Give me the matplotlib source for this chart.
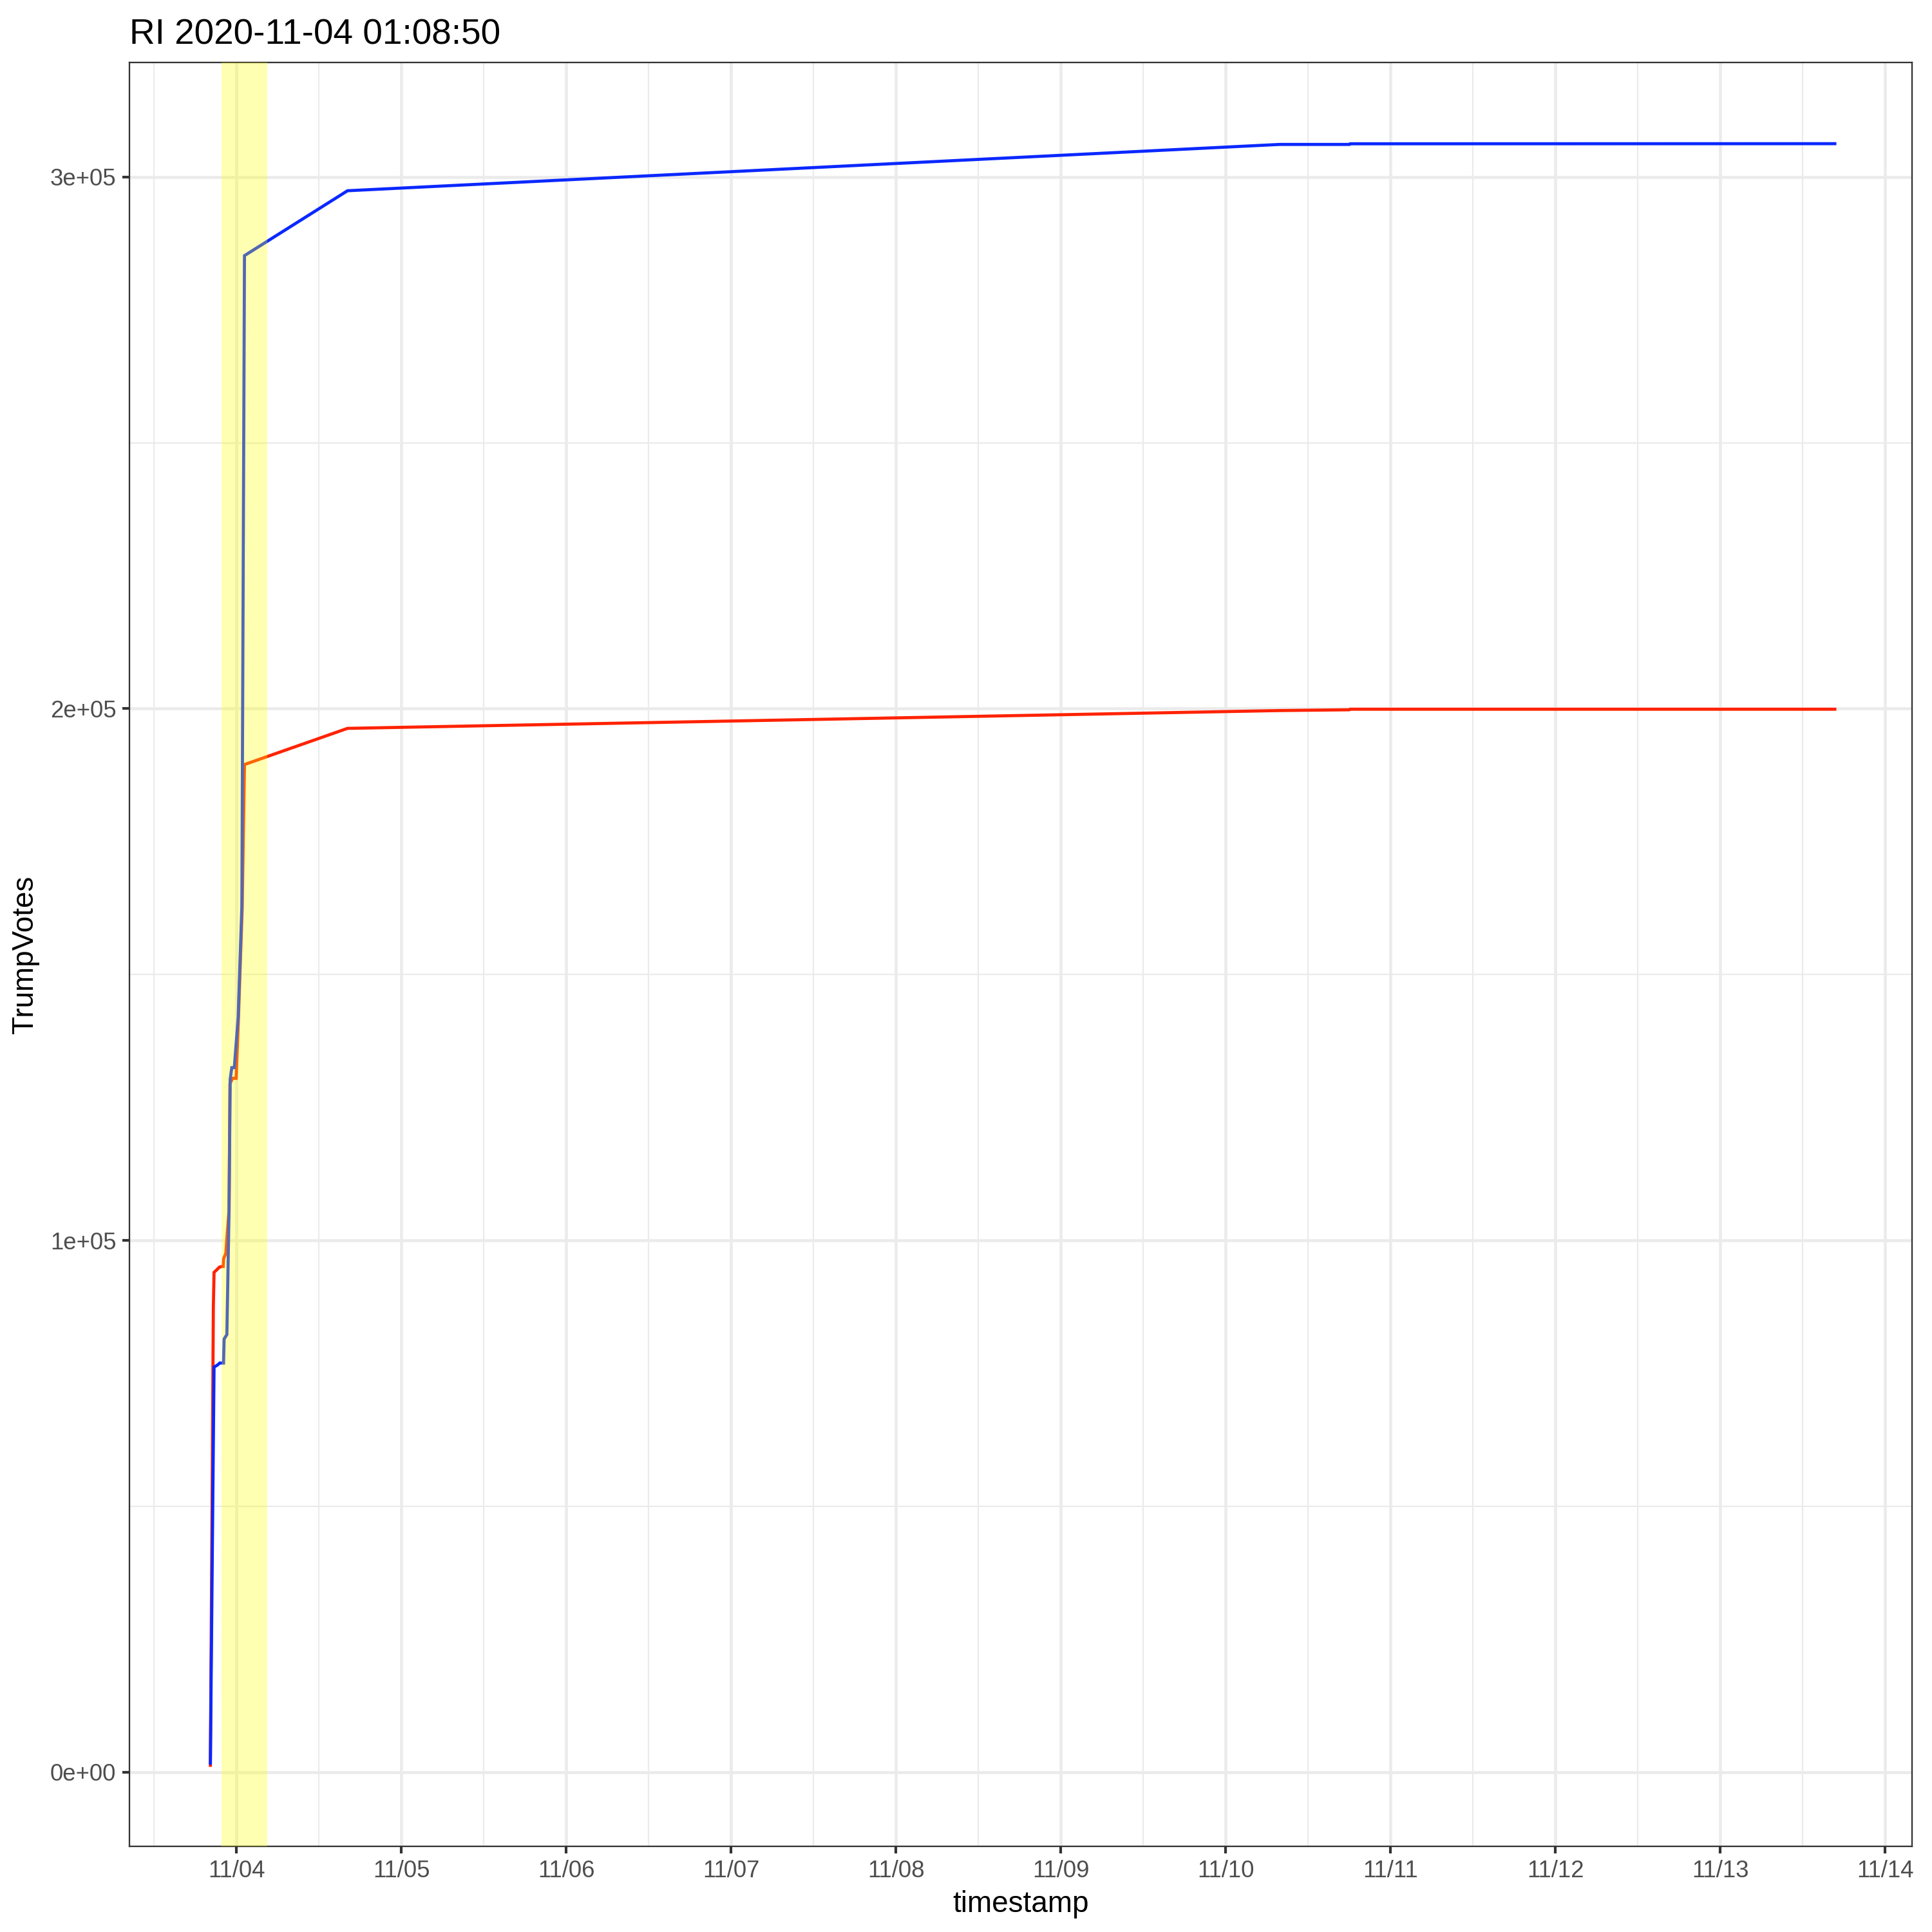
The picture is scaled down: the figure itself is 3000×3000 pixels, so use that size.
import matplotlib
matplotlib.use("Agg")
import matplotlib.pyplot as plt
import matplotlib.dates as mdates
import matplotlib.ticker as mticker
import pandas as pd

# vote counts
trump_times = ["2020-11-03 20:11", "2020-11-03 20:37", "2020-11-03 20:43", "2020-11-03 21:11",
               "2020-11-03 21:29", "2020-11-03 21:48", "2020-11-03 22:03", "2020-11-03 22:07",
               "2020-11-03 22:26", "2020-11-03 22:35", "2020-11-03 22:54", "2020-11-03 23:02",
               "2020-11-03 23:26", "2020-11-03 23:56", "2020-11-04 00:15", "2020-11-04 00:49",
               "2020-11-04 01:08:50", "2020-11-04 16:09", "2020-11-10 07:52", "2020-11-10 18:00",
               "2020-11-10 18:07", "2020-11-13 16:41"]
trump_votes = [1300, 87500, 94000, 94570,
               94980, 95100, 95100, 96600,
               97600, 100400, 105700, 129500,
               130500, 130500, 141000, 162500,
               189500, 196300, 199650, 199800,
               199900, 199900]

biden_times = ["2020-11-03 20:11", "2020-11-03 20:43", "2020-11-03 21:11", "2020-11-03 21:33",
               "2020-11-03 22:06", "2020-11-03 22:11", "2020-11-03 22:35", "2020-11-03 22:41",
               "2020-11-03 22:54", "2020-11-03 23:04", "2020-11-03 23:18", "2020-11-03 23:40",
               "2020-11-04 00:14", "2020-11-04 00:46", "2020-11-04 01:08:50", "2020-11-04 16:09",
               "2020-11-10 07:52", "2020-11-10 18:00", "2020-11-10 18:07", "2020-11-13 16:41"]
biden_votes = [1700, 76200, 76540, 76950,
               76950, 81470, 82300, 89500,
               105700, 130300, 132500, 132500,
               142000, 162900, 285200, 297400,
               306110, 306110, 306230, 306250]

title_text = "RI 2020-11-04 01:08:50"
band_start = "2020-11-03 21:48:50"
band_end = "2020-11-04 04:28:50"
x_range = ("2020-11-03 08:24", "2020-11-14 03:56")

tx = pd.to_datetime(trump_times, format='mixed')
bx = pd.to_datetime(biden_times, format='mixed')

plt.rcParams['font.family'] = ['Liberation Sans', 'DejaVu Sans']

fig = plt.figure(figsize=(10, 10), dpi=300)
ax = fig.add_axes([0.067, 0.0443, 0.9227, 0.9233])

ax.plot(tx, trump_votes, color='#ff2200', lw=1.15, zorder=2, solid_joinstyle='miter')
ax.plot(bx, biden_votes, color='#0a28ff', lw=1.15, zorder=2.1, solid_joinstyle='miter')

ax.axvspan(pd.Timestamp(band_start), pd.Timestamp(band_end), color='yellow', alpha=0.3,
           lw=0, zorder=3)

ax.set_xlim(pd.Timestamp(x_range[0]), pd.Timestamp(x_range[1]))
# ggplot-like 5% expansion on y
ymin = min(min(trump_votes), min(biden_votes))
ymax = max(max(trump_votes), max(biden_votes))
yr = ymax - ymin
ax.set_ylim(ymin - 0.05 * yr, ymax + 0.05 * yr)

ax.xaxis.set_major_locator(mdates.DayLocator())
ax.xaxis.set_minor_locator(mdates.HourLocator(byhour=12))
ax.xaxis.set_major_formatter(mdates.DateFormatter('%m/%d'))
ax.yaxis.set_major_locator(mticker.MultipleLocator(100000))
ax.yaxis.set_minor_locator(mticker.MultipleLocator(50000))
ax.yaxis.set_major_formatter(mticker.FuncFormatter(lambda v, p: f"{v:.0e}"))

ax.grid(which='major', color='#ebebeb', lw=1.1, zorder=0)
ax.grid(which='minor', color='#ebebeb', lw=0.55, zorder=0)
ax.set_axisbelow(True)

ax.tick_params(which='major', length=2.75, width=1.0, color='#333333', pad=2.2,
               labelsize=8.8, labelcolor='#4d4d4d')
ax.tick_params(which='minor', length=0)
for s in ax.spines.values():
    s.set_color('#333333')
    s.set_linewidth(0.55)

ax.set_xlabel('timestamp', fontsize=11, labelpad=3)
ax.set_ylabel('TrumpVotes', fontsize=11, labelpad=4)
ax.set_title(title_text, loc='left', fontsize=13.2, pad=7)

fig.savefig('out.png', dpi=300, facecolor='white')
